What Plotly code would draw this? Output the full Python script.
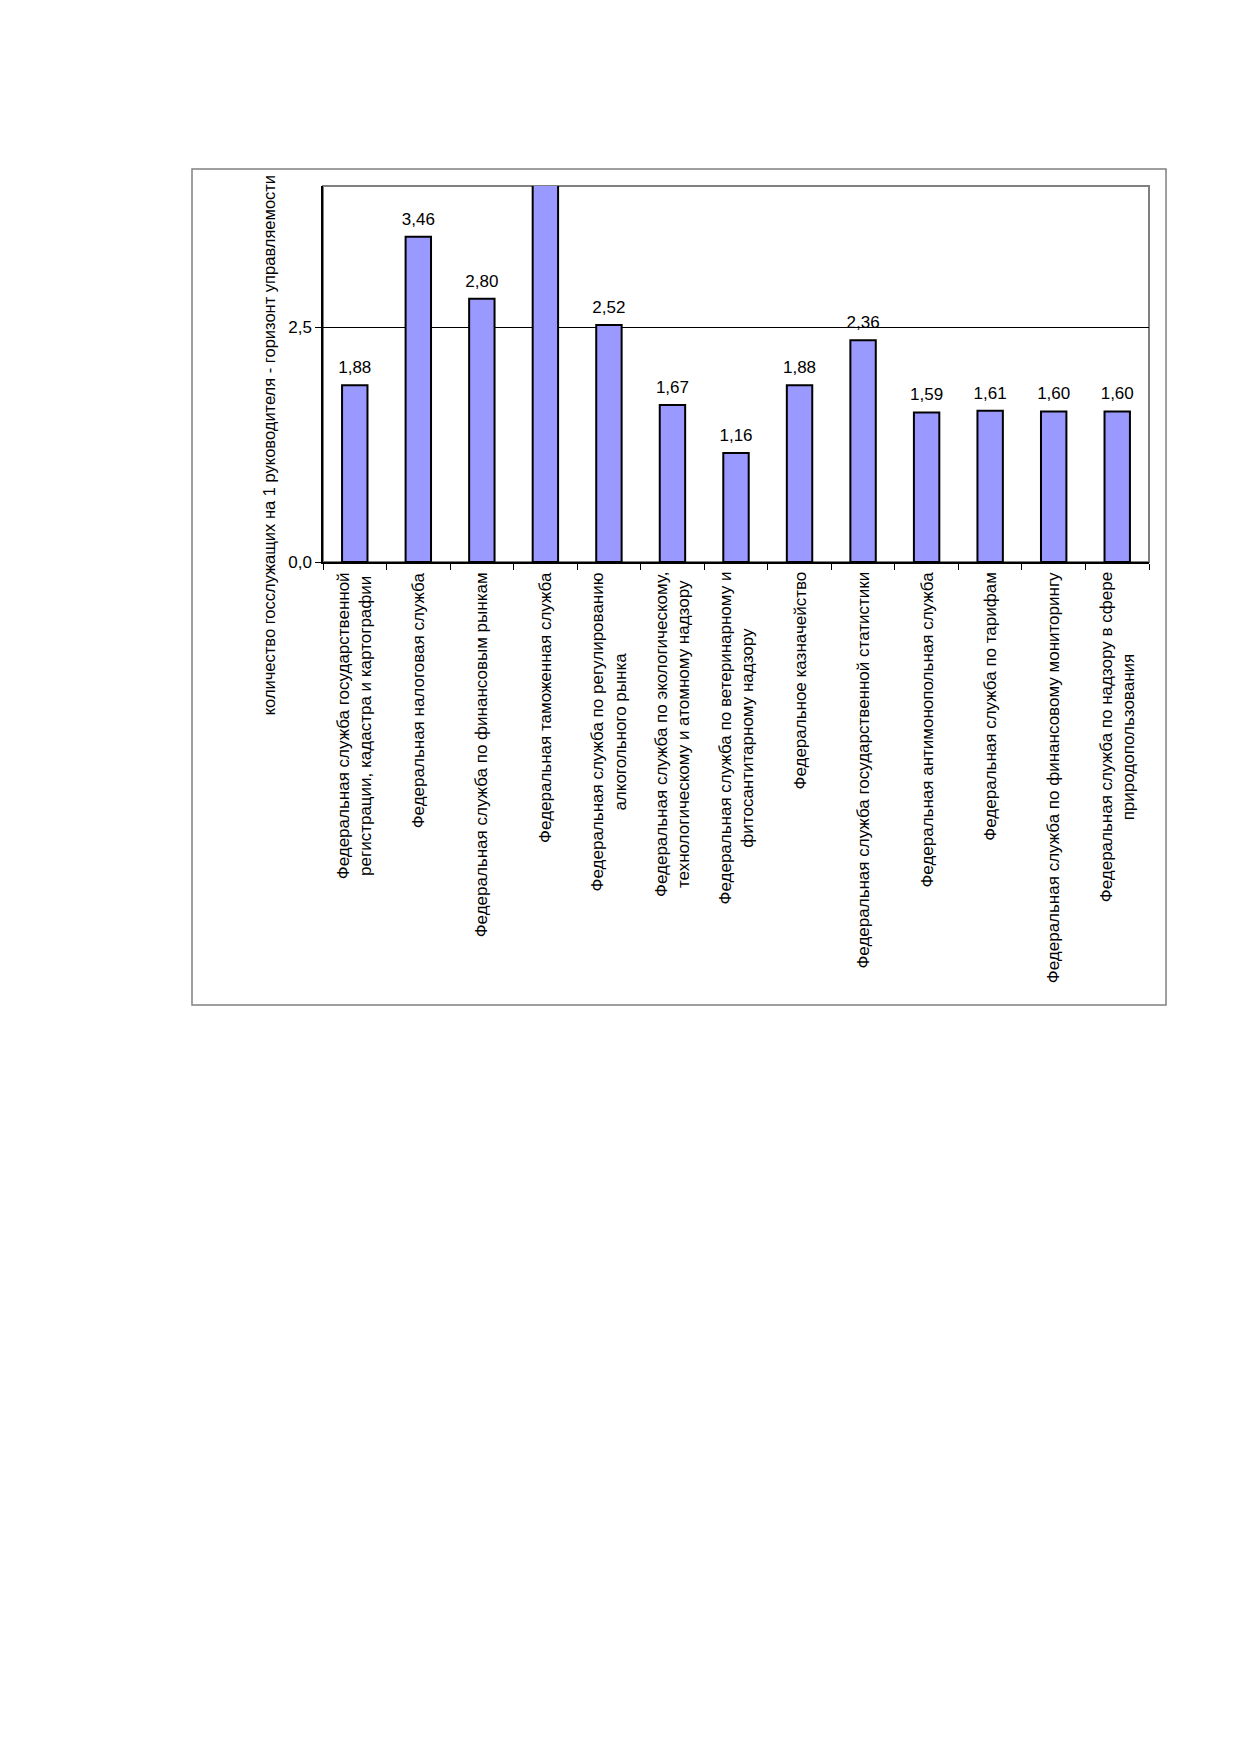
import plotly.graph_objects as go

# Категории (подписи оси X) и значения
services = [
    "Федеральная служба государственной<br>регистрации, кадастра и картографии",
    "Федеральная налоговая служба",
    "Федеральная служба по финансовым рынкам",
    "Федеральная таможенная служба",
    "Федеральная служба по регулированию<br>алкогольного рынка",
    "Федеральная служба по экологическому,<br>технологическому и атомному надзору",
    "Федеральная служба по ветеринарному и<br>фитосантитарному надзору",
    "Федеральное казначейство",
    "Федеральная служба государственной статистики",
    "Федеральная антимонопольная служба",
    "Федеральная служба по тарифам",
    "Федеральная служба по финансовому мониторингу",
    "Федеральная служба по надзору в сфере<br>природопользования",
]
# таможенная служба выходит за верх шкалы, значение не читается
staff_per_head = [1.88, 3.46, 2.80, 4.30, 2.52, 1.67, 1.16, 1.88, 2.36, 1.59, 1.61, 1.60, 1.60]

y_ticks = [0, 2.5]
y_title = "количество госслужащих на 1 руководителя - горизонт управляемости"

FONT = "Arial, Liberation Sans, sans-serif"
FS = 17

fig = go.Figure()
fig.add_trace(go.Bar(
    x=services,
    y=staff_per_head,
    marker=dict(color="#9999FF", line=dict(color="black", width=2)),
    showlegend=False,
    hoverinfo="skip",
))
# подписи значений: прозрачный маркер задаёт отступ над столбцом
fig.add_trace(go.Scatter(
    x=services,
    y=staff_per_head,
    mode="markers+text",
    marker=dict(size=11, color="rgba(0,0,0,0)"),
    texttemplate="%{y:.2f}",
    textposition="top center",
    textfont=dict(family=FONT, size=FS, color="black"),
    cliponaxis=True,
    showlegend=False,
))

# подписи категорий, строки выровнены по центру
for name in services:
    fig.add_annotation(
        text=name, textangle=-90, showarrow=False, align="center",
        xref="x", yref="paper", x=name, y=0, yshift=-8,
        xanchor="center", yanchor="top",
        font=dict(family=FONT, size=FS, color="black"),
    )

# рамка всей диаграммы и серая рамка области построения
fig.add_shape(type="rect", xref="paper", yref="paper",
              x0=-0.1586, x1=1.0206, y0=-1.178, y1=1.0452,
              line=dict(color="#808080", width=1.5), layer="below")
fig.add_shape(type="rect", xref="paper", yref="paper",
              x0=0, x1=1, y0=0, y1=1,
              line=dict(color="#808080", width=2), layer="below")

fig.add_annotation(
    text=y_title, textangle=-90, showarrow=False,
    xref="paper", yref="paper", x=-0.065, y=1.0346,
    xanchor="center", yanchor="top",
    font=dict(family=FONT, size=16.5, color="black"),
)

fig.update_layout(
    width=1239, height=1752,
    margin=dict(l=315, r=98, t=178, b=1198, autoexpand=False),
    paper_bgcolor="white", plot_bgcolor="white",
    separators=", ",
    bargap=0.6,
    font=dict(family=FONT, size=FS, color="black"),
)
fig.update_xaxes(
    range=[-0.5, len(services) - 0.5],
    showticklabels=False, ticks="outside", ticklen=6, tickcolor="black",
    tickson="boundaries", showline=True, linecolor="black", linewidth=1.5,
    showgrid=False, automargin=False,
)
fig.update_yaxes(
    range=[0, 4.0], tickvals=y_ticks, tickformat=".1f",
    ticks="outside", ticklen=6, tickcolor="black",
    showline=True, linecolor="black", linewidth=1.5,
    showgrid=True, gridcolor="black", gridwidth=1.2, zeroline=False,
    automargin=False,
    tickfont=dict(family=FONT, size=FS, color="black"),
)

fig.write_html("out.html")
